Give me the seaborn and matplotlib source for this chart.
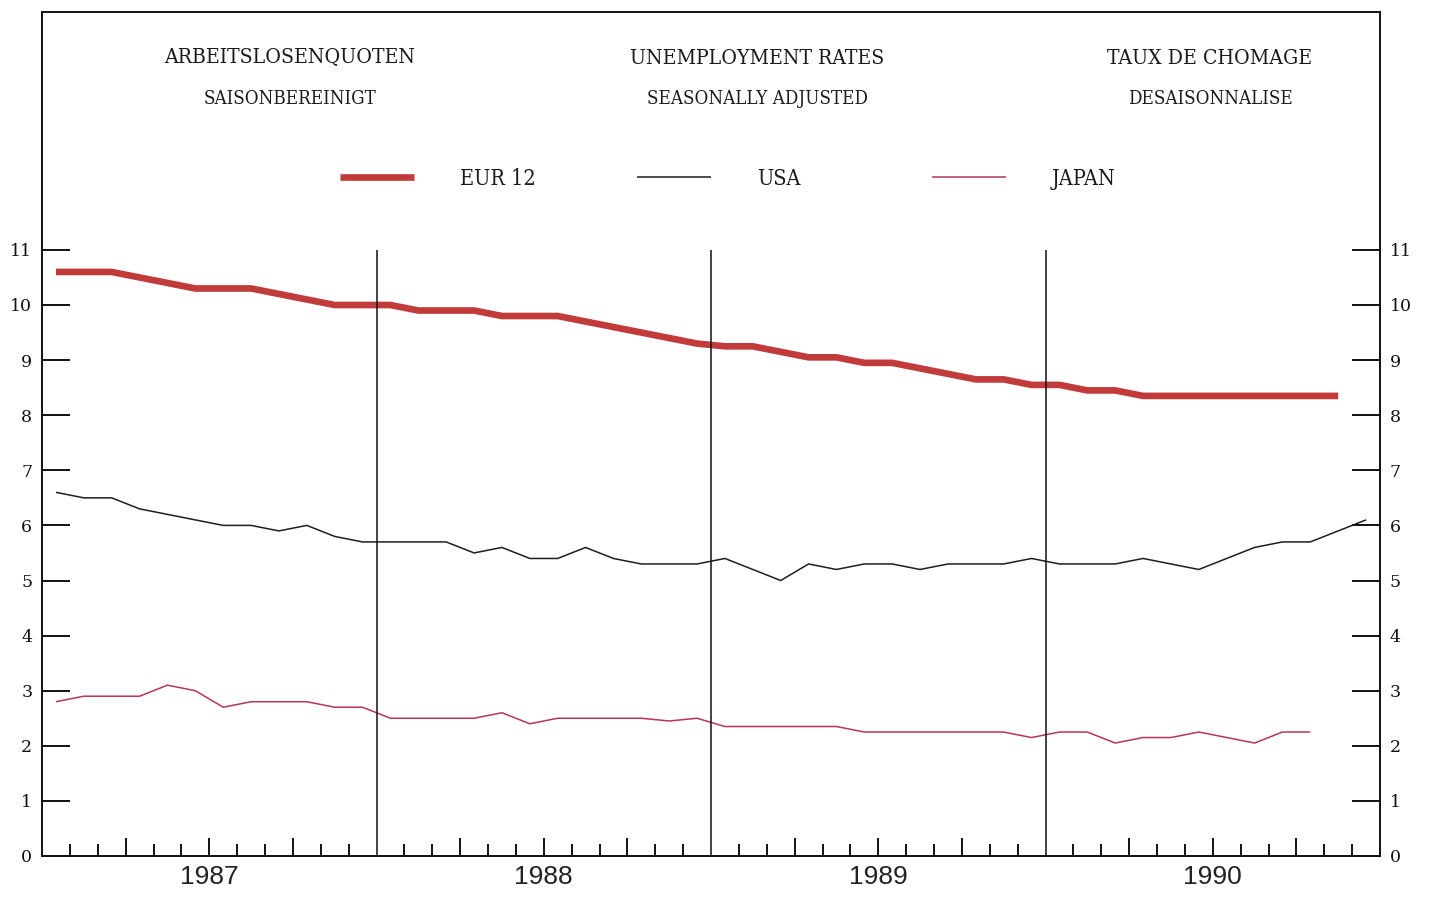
import numpy as np
import pandas as pd
import matplotlib
matplotlib.use("Agg")
import matplotlib.pyplot as plt
from matplotlib.lines import Line2D
from matplotlib import font_manager as fm
import seaborn as sns

# ---------------- data (monthly, Jan 1987 onwards) ----------------
years = ["1987", "1988", "1989", "1990"]
eur12 = [10.6, 10.6, 10.6, 10.5, 10.4, 10.3, 10.3, 10.3, 10.2, 10.1, 10.0, 10.0,
         10.0, 9.9, 9.9, 9.9, 9.8, 9.8, 9.8, 9.7, 9.6, 9.5, 9.4, 9.3,
         9.25, 9.25, 9.15, 9.05, 9.05, 8.95, 8.95, 8.85, 8.75, 8.65, 8.65, 8.55,
         8.55, 8.45, 8.45, 8.35, 8.35, 8.35, 8.35, 8.35, 8.35, 8.35, 8.35]
usa = [6.6, 6.5, 6.5, 6.3, 6.2, 6.1, 6.0, 6.0, 5.9, 6.0, 5.8, 5.7,
       5.7, 5.7, 5.7, 5.5, 5.6, 5.4, 5.4, 5.6, 5.4, 5.3, 5.3, 5.3,
       5.4, 5.2, 5.0, 5.3, 5.2, 5.3, 5.3, 5.2, 5.3, 5.3, 5.3, 5.4,
       5.3, 5.3, 5.3, 5.4, 5.3, 5.2, 5.4, 5.6, 5.7, 5.7, 5.9, 6.1]
japan = [2.8, 2.9, 2.9, 2.9, 3.1, 3.0, 2.7, 2.8, 2.8, 2.8, 2.7, 2.7,
         2.5, 2.5, 2.5, 2.5, 2.6, 2.4, 2.5, 2.5, 2.5, 2.5, 2.45, 2.5,
         2.35, 2.35, 2.35, 2.35, 2.35, 2.25, 2.25, 2.25, 2.25, 2.25, 2.25, 2.15,
         2.25, 2.25, 2.05, 2.15, 2.15, 2.25, 2.15, 2.05, 2.25, 2.25]
series_names = ["EUR 12", "USA", "JAPAN"]
series_colors = ["#c23b3b", "#1e1e1e", "#b8345a"]
series_widths = [4.8, 1.1, 1.1]
y_ticks = list(range(0, 12))

header_lines = [("ARBEITSLOSENQUOTEN", "SAISONBEREINIGT"),
                ("UNEMPLOYMENT RATES", "SEASONALLY ADJUSTED"),
                ("TAUX DE CHOMAGE", "DESAISONNALISE")]

# ---------------- style ----------------
sns.set_theme(style="white")
plt.rcParams["font.family"] = ["Liberation Serif", "DejaVu Serif"]

# look for a condensed serif face (the original header type is narrow)
cond_path = None
for f in fm.fontManager.ttflist:
    nm = f.name.lower()
    fp = f.fname.lower()
    if "serif" in nm and ("condensed" in nm or "condensed" in fp or "narrow" in nm
                          or str(f.stretch) in ("condensed", "semi-condensed")):
        if f.weight in (400, "normal", "regular") and f.style == "normal":
            cond_path = f.fname
            break


def head_font(size):
    if cond_path is not None:
        return fm.FontProperties(fname=cond_path, size=size)
    return fm.FontProperties(family=["Liberation Serif", "DejaVu Serif"], size=size * 0.95)


W, H = 1431, 899
fig = plt.figure(figsize=(W / 100, H / 100), dpi=100)
fig.patch.set_facecolor("white")
ax_left, ax_right, ax_bottom, ax_top = 42, 1380, 856, 12
ax = fig.add_axes([ax_left / W, 1 - ax_bottom / H,
                   (ax_right - ax_left) / W, (ax_bottom - ax_top) / H])
ax.set_facecolor("white")

frames = []
for name, vals in zip(series_names, [eur12, usa, japan]):
    frames.append(pd.DataFrame({"month": np.arange(len(vals)) + 0.5,
                                "rate": vals, "series": name}))
df = pd.concat(frames, ignore_index=True)

for name, col, lw in zip(series_names, series_colors, series_widths):
    sns.lineplot(data=df[df["series"] == name], x="month", y="rate", color=col,
                 linewidth=lw, ax=ax, legend=False, solid_capstyle="butt",
                 solid_joinstyle="round", zorder=3 if name != "EUR 12" else 2)

# year separators
ax.vlines([12, 24, 36], 0, 11, color="#111111", linewidth=1.1, zorder=4)

ax.set_xlim(0, 48)
ax.set_ylim(0, (ax_bottom - ax_top) / 55.1)
ax.set_xlabel("")
ax.set_ylabel("")

# y ticks both sides
ax.set_yticks(y_ticks)
ax.set_yticklabels([str(v) for v in y_ticks])
ax.tick_params(axis="y", which="major", direction="in", length=20, width=1.4,
               color="#111111", left=True, right=True, labelleft=True,
               labelright=True, labelsize=12.5, pad=7, labelcolor="#111111")
for lab in ax.get_yticklabels():
    lab.set_family(["DejaVu Serif"])

# x ticks: months (minor) and quarters (major)
quarters = [m for m in range(3, 48, 3) if m % 12 != 0]
months = [m for m in range(1, 48) if m % 3 != 0]
ax.set_xticks(quarters)
ax.set_xticklabels([])
ax.set_xticks(months, minor=True)
ax.tick_params(axis="x", which="major", direction="in", length=13, width=1.4,
               color="#111111", bottom=True)
ax.tick_params(axis="x", which="minor", direction="in", length=8.6, width=1.4,
               color="#111111", bottom=True)

for sp in ax.spines.values():
    sp.set_visible(True)
    sp.set_color("#111111")
    sp.set_linewidth(1.4)

# year labels
for k, yr in enumerate(years):
    ax.text(6 + 12 * k, -0.025, yr, transform=ax.get_xaxis_transform(),
            ha="center", va="center", fontsize=19, color="#222222",
            family=["Liberation Sans", "DejaVu Sans"])

# header texts
head_x = [290, 757, 1210]
for (l1, l2), hx in zip(header_lines, head_x):
    fig.text(hx / W, 1 - 58 / H, l1, ha="center", va="center",
             fontproperties=head_font(15.2), color="#1a1a1a")
    fig.text(hx / W, 1 - 99 / H, l2, ha="center", va="center",
             fontproperties=head_font(13.5), color="#1a1a1a")

# legend: three separate entries
leg_x = [340, 637, 932]
leg_fs = 15.5
px_per_unit = leg_fs * 100 / 72
for name, col, lw, lx in zip(series_names, series_colors, series_widths, leg_x):
    h = Line2D([], [], color=col, linewidth=lw, solid_capstyle="butt")
    lg = fig.legend([h], [name], loc="center left",
                    bbox_to_anchor=(lx / W, 1 - 179 / H), frameon=False,
                    borderpad=0, borderaxespad=0, handlelength=74 / px_per_unit,
                    handletextpad=46 / px_per_unit, prop=head_font(leg_fs))
    for t in lg.get_texts():
        t.set_color("#1a1a1a")

fig.savefig("out.png", dpi=100, facecolor="white")
